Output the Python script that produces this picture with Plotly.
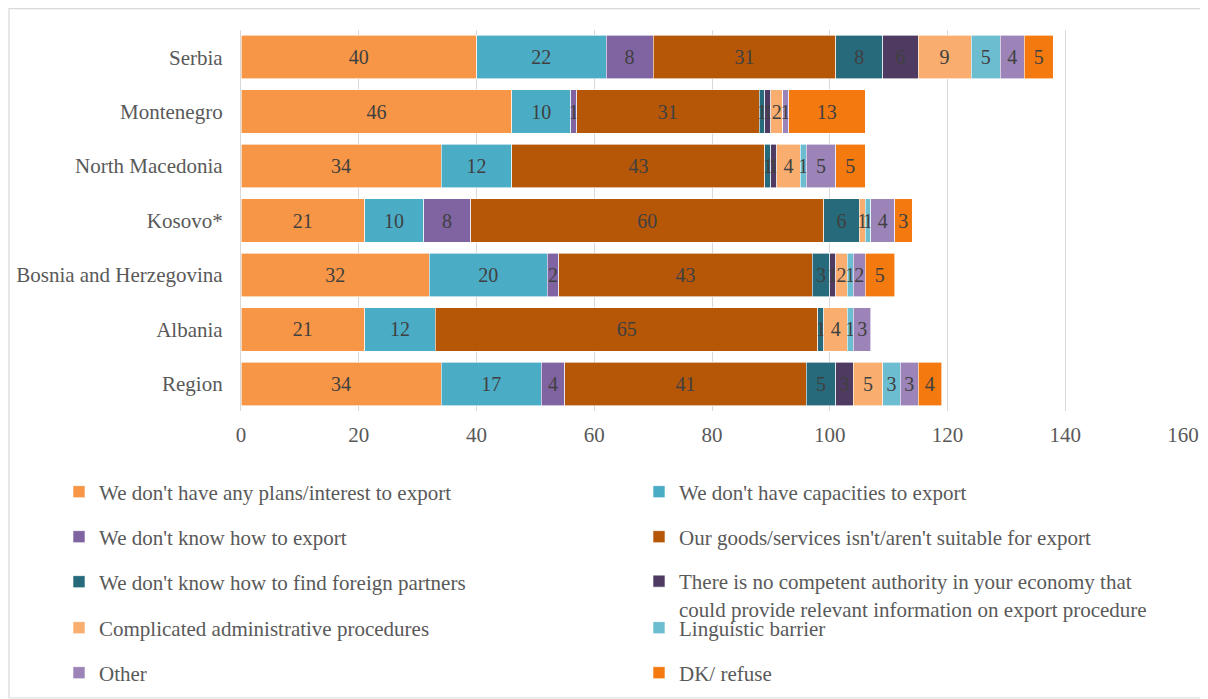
import plotly.graph_objects as go

categories = ["Serbia", "Montenegro", "North Macedonia", "Kosovo*",
              "Bosnia and Herzegovina", "Albania", "Region"]

series_names = [
    "We don't have any plans/interest to export",
    "We don't have capacities to export",
    "We don't know how to export",
    "Our goods/services isn't/aren't suitable for export",
    "We don't know how to find foreign partners",
    "There is no competent authority in your economy that<br>could provide relevant information on export procedure",
    "Complicated administrative procedures",
    "Linguistic barrier",
    "Other",
    "DK/ refuse",
]

plans       = [40, 46, 34, 21, 32, 21, 34]
capacities  = [22, 10, 12, 10, 20, 12, 17]
know_how    = [8, 1, None, 8, 2, None, 4]
goods       = [31, 31, 43, 60, 43, 65, 41]
partners    = [8, 1, 1, 6, 3, 1, 5]
authority   = [6, 1, 1, None, 1, None, 3]
complicated = [9, 2, 4, 1, 2, 4, 5]
linguistic  = [5, 0, 1, 1, 1, 1, 3]
other       = [4, 1, 5, 4, 2, 3, 3]
dk_refuse   = [5, 13, 5, 3, 5, None, 4]

series_values = [plans, capacities, know_how, goods, partners, authority,
                 complicated, linguistic, other, dk_refuse]

colors = ["#F79646", "#4BACC6", "#8064A2", "#B65708", "#276A7C",
          "#4F3B62", "#F9AE70", "#6DBDD1", "#9C84B8", "#F47A0F"]

x_ticks = [0, 20, 40, 60, 80, 100, 120, 140, 160]

FONT = "Liberation Serif, Times New Roman, serif"

# page body adds 8px offset; figure coords = screen - 8
W, H = 1200, 691
col_x = [95, 675]
row_y = [484, 529, 574, 620, 665]
legend_pos = [
    (col_x[0], row_y[0]), (col_x[1], row_y[0]),
    (col_x[0], row_y[1]), (col_x[1], row_y[1]),
    (col_x[0], row_y[2]), (col_x[1], row_y[2]),
    (col_x[0], row_y[3]), (col_x[1], row_y[3]),
    (col_x[0], row_y[4]), (col_x[1], row_y[4]),
]

L, T, PR, PB = 233, 22, 1175, 403
PW, PH = PR - L, PB - T

fig = go.Figure()
layout_legends = {}
for i, (name, vals, col) in enumerate(zip(series_names, series_values, colors)):
    lname = "legend" if i == 0 else f"legend{i+1}"
    fig.add_trace(go.Bar(
        y=categories, x=vals, name=name, orientation="h",
        marker=dict(color=col, line=dict(color="white", width=0.6)),
        text=[("" if v is None else str(v)) for v in vals],
        textposition="inside", insidetextanchor="middle",
        constraintext="none", cliponaxis=False,
        textfont=dict(family=FONT, size=20, color="#404040"),
        legend=lname, hoverinfo="x+name",
    ))
    lx, ly = legend_pos[i]
    layout_legends[lname] = dict(
        x=(lx - 44) / W, y=1 - ly / H, xref="container", yref="container",
        xanchor="left", yanchor="top" if i == 5 else "middle",
        valign="top", bgcolor="rgba(0,0,0,0)",
        font=dict(family=FONT, size=21, color="#595959"),
        itemwidth=30, tracegroupgap=0,
    )
# two-line item: anchor by top
layout_legends["legend6"]["y"] = 1 - (row_y[2] - 21) / H

fig.update_layout(
    barmode="stack", bargap=0.2,
    width=W, height=H,
    margin=dict(l=L, r=W - PR, t=T, b=H - PB, autoexpand=False),
    plot_bgcolor="white", paper_bgcolor="white",
    font=dict(family=FONT, size=21, color="#595959"),
    showlegend=True,
    uniformtext=dict(minsize=20, mode="show"),
    xaxis=dict(range=[0, 160], tickvals=x_ticks, showgrid=True,
               gridcolor="#D9D9D9", gridwidth=1.3, zeroline=False,
               ticks="", ticklabelstandoff=9, tickangle=0, automargin=False,
               tickfont=dict(family=FONT, size=21, color="#595959")),
    yaxis=dict(categoryorder="array", categoryarray=categories,
               autorange="reversed", showline=True, linecolor="#D9D9D9",
               linewidth=1.3, ticks="", ticklabelstandoff=13, automargin=False,
               tickfont=dict(family=FONT, size=21, color="#595959")),
    shapes=[dict(type="rect", xref="paper", yref="paper",
                 x0=(1 - L) / PW, x1=(1199 - L) / PW,
                 y0=(PB - 690) / PH, y1=(PB - 0.7) / PH,
                 line=dict(color="#D9D9D9", width=1.2), layer="below")],
    **layout_legends,
)

fig.write_html("out.html")
